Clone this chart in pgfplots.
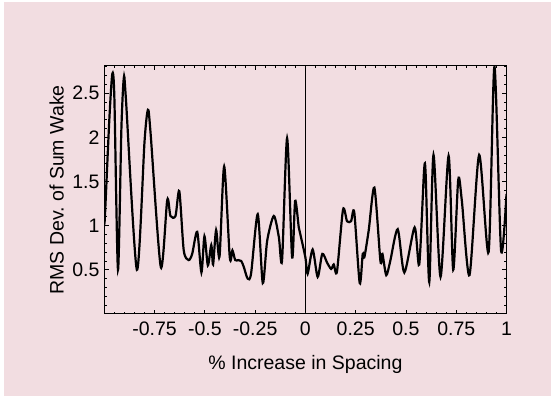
\documentclass[border=0pt]{standalone}
\usepackage{pgfplots}
\pgfplotsset{compat=1.18}
\usepackage{fontspec}
\setmainfont{Liberation Sans}
\definecolor{pinkbg}{RGB}{242,221,225}
\begin{document}
\begin{tikzpicture}
\fill[white] (0,0) rectangle (275.5pt,198pt);
\fill[pinkbg] (2pt,0) rectangle (275.5pt,197pt);
\begin{axis}[
  at={(52.15pt,41pt)}, anchor=south west,
  scale only axis, width=201.1pt, height=124.15pt,
  xmin=-1, xmax=1, ymin=0, ymax=2.81,
  axis line style={line width=0.5pt},
  font=\fontsize{9.75}{11}\selectfont,
  xtick={-1,-0.75,-0.5,-0.25,0,0.25,0.5,0.75,1},
  xticklabels={,-0.75,-0.5,-0.25,0,0.25,0.5,0.75,1},
  ytick={0.5,1,1.5,2,2.5},
  yticklabels={0.5,1,1.5,2,2.5},
  minor xtick={-0.95,-0.9,-0.85,-0.8,-0.7,-0.65,-0.6,-0.55,-0.45,-0.4,-0.35,-0.3,-0.2,-0.15,-0.1,-0.05,0.05,0.1,0.15,0.2,0.3,0.35,0.4,0.45,0.55,0.6,0.65,0.7,0.8,0.85,0.9,0.95},
  minor ytick={0.1,0.2,0.3,0.4,0.6,0.7,0.8,0.9,1.1,1.2,1.3,1.4,1.6,1.7,1.8,1.9,2.1,2.2,2.3,2.4,2.6,2.7,2.8},
  tick align=inside,
  major tick length=2.2pt, minor tick length=1.2pt,
  tick style={black, line width=0.4pt},
  xticklabel style={anchor=base, yshift=-10.75pt},
  yticklabel style={anchor=east, xshift=1.1pt},
  every axis x label/.style={at={(axis description cs:0.5,0)}, anchor=base, yshift=-27.8pt},
  every axis y label/.style={at={(axis description cs:-0.1186,0.5)}, rotate=90, anchor=center},
  xlabel={\% Increase in Spacing},
  ylabel={RMS Dev.\ of Sum Wake},
]
\addplot[black, line width=0.4pt] coordinates {(0,0) (0,2.81)};
\addplot[black, line width=1.1pt, smooth, tension=0.45] coordinates {
(-1.000,1.05) (-0.997,1.10) (-0.975,2.20) (-0.960,2.72) (-0.950,2.45) (-0.932,0.50)
(-0.915,2.10) (-0.903,2.67) (-0.893,2.45) (-0.838,0.50)
(-0.800,1.95) (-0.783,2.31) (-0.770,2.05) (-0.719,0.53)
(-0.687,1.29) (-0.671,1.11) (-0.646,1.11) (-0.627,1.39)
(-0.605,0.72) (-0.581,0.61) (-0.563,0.68) (-0.538,0.93)
(-0.517,0.47) (-0.502,0.88) (-0.485,0.55) (-0.468,0.78)
(-0.459,0.56) (-0.444,0.95) (-0.427,0.65) (-0.404,1.67)
(-0.376,0.64) (-0.363,0.72) (-0.349,0.61) (-0.334,0.61)
(-0.319,0.60) (-0.306,0.53) (-0.287,0.40) (-0.270,0.46)
(-0.237,1.13) (-0.212,0.35) (-0.190,0.83) (-0.157,1.11)
(-0.132,0.87) (-0.116,0.61) (-0.091,1.99) (-0.066,0.64)
(-0.051,1.28) (-0.033,0.98) (-0.025,0.90) (0.000,0.64)
(0.011,0.455) (0.036,0.73) (0.061,0.42) (0.084,0.68)
(0.108,0.58) (0.128,0.51) (0.141,0.56) (0.157,0.48)
(0.187,1.18) (0.207,1.05) (0.227,1.05) (0.243,1.15)
(0.270,0.35) (0.285,0.68) (0.293,0.64) (0.315,0.95)
(0.343,1.43) (0.373,0.60) (0.383,0.68) (0.402,0.44)
(0.422,0.60) (0.459,0.96) (0.492,0.47) (0.543,0.98)
(0.566,0.56) (0.590,1.62) (0.598,1.58) (0.616,0.36)
(0.637,1.80) (0.672,0.42) (0.712,1.79) (0.735,0.50)
(0.760,1.52) (0.778,1.28) (0.816,0.44) (0.864,1.80)
(0.911,0.70) (0.940,2.80) (0.973,0.72) (1.000,1.36)
};
\end{axis}
\end{tikzpicture}
\end{document}
